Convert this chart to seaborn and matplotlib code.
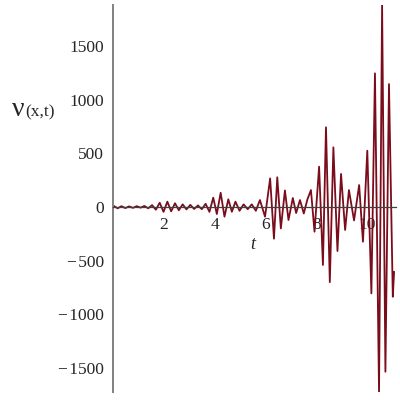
import matplotlib
matplotlib.use("Agg")
import matplotlib.pyplot as plt
import seaborn as sns
import numpy as np
import pandas as pd
from matplotlib.ticker import FixedLocator, FixedFormatter, MultipleLocator

# extremes of the curve (t, v)
t_vals = [0.0, 0.05, 0.2, 0.35, 0.5, 0.65, 0.8, 0.95, 1.1, 1.25, 1.4, 1.55, 1.7,
          1.85, 2.0, 2.15, 2.3, 2.45, 2.6, 2.75, 2.9, 3.05, 3.2, 3.35, 3.5, 3.65,
          3.8, 3.95, 4.09, 4.24, 4.39, 4.54, 4.68, 4.82, 4.98, 5.14, 5.30, 5.46,
          5.62, 5.78, 5.98, 6.18, 6.33, 6.46, 6.6, 6.76, 6.9, 7.07, 7.2, 7.35,
          7.5, 7.64, 7.78, 7.92, 8.1, 8.25, 8.37, 8.52, 8.66, 8.82, 8.96, 9.12,
          9.27, 9.47, 9.67, 9.82, 9.99, 10.15, 10.29, 10.45, 10.57, 10.7, 10.84,
          10.99, 11.04]
v_vals = [0, 10, -12, 8, -10, 6, -8, 8, -6, 10, -12, 18, -25,
          40, -45, 50, -40, 35, -30, 25, -22, 20, -18, 15, -20, 30,
          -45, 87, -65, 133, -90, 72, -44, 50, -35, 25, -20, 25,
          -35, 65, -90, 267, -295, 277, -200, 155, -121, 84, -56, 65,
          -60, 70, 158, -230, 376, -540, 743, -700, 556, -410, 308, -214,
          158, -125, 205, -323, 525, -805, 1246, -1734, 1883, -1535, 1146,
          -836, -603]

ytick_vals = [-1500, -1000, -500, 0, 500, 1000, 1500]
ytick_labels = ["\u2212\u200a1500", "\u2212\u200a1000", "\u2212\u200a500", "0", "500", "1000", "1500"]
xtick_vals = [2, 4, 6, 8, 10]
xtick_labels = ["2", "4", "6", "8", "10"]

sns.set_style("white")
plt.rcParams['font.family'] = ['Liberation Serif', 'DejaVu Serif']

fig = plt.figure(figsize=(4, 4), dpi=100)
ax = fig.add_axes([0.2813, 0.02, 0.709, 0.9675])

df = pd.DataFrame({"t": t_vals, "v": v_vals})
sns.lineplot(data=df, x="t", y="v", ax=ax, color="#7a0c1c", linewidth=1.3,
             sort=False, estimator=None, solid_joinstyle="round")

ax.set_xlim(0, 11.12)
ax.set_ylim(-1724, 1883)

for s in ["top", "right"]:
    ax.spines[s].set_visible(False)
ax.spines["bottom"].set_position(("data", 0))
ax.spines["bottom"].set_color("#404040")
ax.spines["bottom"].set_linewidth(0.9)
ax.spines["left"].set_color("#808080")
ax.spines["left"].set_linewidth(1.4)

ax.yaxis.set_major_locator(FixedLocator(ytick_vals))
ax.yaxis.set_major_formatter(FixedFormatter(ytick_labels))
ax.yaxis.set_minor_locator(MultipleLocator(100))
ax.xaxis.set_major_locator(FixedLocator(xtick_vals))
ax.xaxis.set_major_formatter(FixedFormatter(xtick_labels))
ax.xaxis.set_minor_locator(MultipleLocator(0.5))

ax.tick_params(axis="y", which="major", direction="out", length=4, width=0.9,
               color="#606060", labelsize=12.5, pad=2)
ax.tick_params(axis="y", which="minor", direction="inout", length=3, width=0.7,
               color="#606060")
ax.tick_params(axis="x", which="major", direction="inout", length=4, width=0.8,
               color="#404040", labelsize=12.5, pad=5)
ax.tick_params(axis="x", which="minor", direction="inout", length=2, width=0.6,
               color="#404040")
ax.set_xlabel("")
ax.set_ylabel("")

ax.text(0.4956, 0.38, "t", transform=ax.transAxes, fontsize=13, style="italic",
        ha="center", va="center")
fig.text(0.045, 0.725, "\u03bd", fontsize=20, ha="center", va="center")
fig.text(0.1, 0.72, "(x,t)", fontsize=12.5, ha="center", va="center")

fig.savefig("out.png", dpi=100)
